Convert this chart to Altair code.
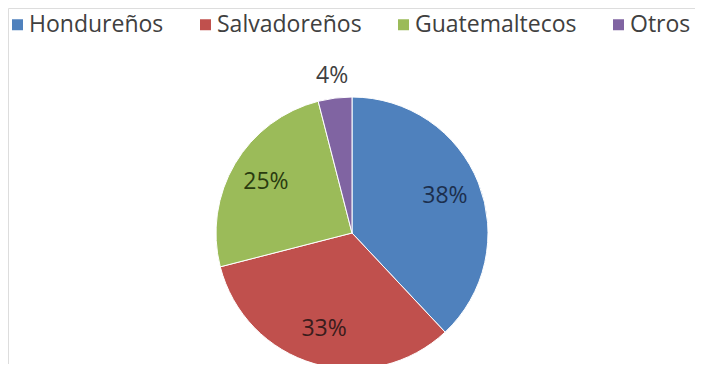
import altair as alt
import pandas as pd

categories = ["Hondureños", "Salvadoreños", "Guatemaltecos", "Otros"]
values = [38, 33, 25, 4]
labels = ["38%", "33%", "25%", "4%"]
colors = ["#4F81BD", "#C0504D", "#9BBB59", "#8064A2"]
label_colors = ["#1c2f4d", "#3a1c1c", "#2a3b10", "#404040"]

df = pd.DataFrame({"cat": categories, "val": values, "label": labels,
                   "order": list(range(len(categories)))})
total = sum(values)

cx, cy = 344, 225
theta_scale = alt.Scale(domain=[0, total])

base = alt.Chart(df).transform_stack(
    stack="val", as_=["v0", "v1"], groupby=[],
    sort=[alt.SortField("order", order="ascending")],
).transform_calculate(mid="(datum.v0 + datum.v1) / 2")

pie = base.mark_arc(outerRadius=136, stroke="white", strokeWidth=1).encode(
    x=alt.value(cx), y=alt.value(cy),
    theta=alt.Theta("v0:Q", scale=theta_scale),
    theta2="v1:Q",
    color=alt.Color("cat:N", sort=categories,
                    scale=alt.Scale(domain=categories, range=colors),
                    legend=alt.Legend(title=None, orient="none", direction="horizontal",
                                      legendX=-2, legendY=5,
                                      symbolType="square", symbolSize=121,
                                      symbolStrokeWidth=0,
                                      labelFont="Open Sans", labelFontSize=23,
                                      labelColor="#404040", columnPadding=30,
                                      labelOffset=0, labelLimit=300)),
)

def text_layer(radius, cond):
    return base.mark_text(radius=radius, font="Open Sans", fontSize=23).encode(
        x=alt.value(cx), y=alt.value(cy),
        theta=alt.Theta("mid:Q", scale=theta_scale),
        text="label:N",
        color=alt.Color("cat:N", scale=alt.Scale(domain=categories, range=label_colors),
                        legend=None),
    ).transform_filter(cond)

txt_in = text_layer(100, alt.datum.cat != "Otros")
txt_out = text_layer(158, alt.datum.cat == "Otros")

chart = alt.layer(pie, txt_in, txt_out).resolve_scale(color="independent").properties(
    width=687, height=356,
    autosize=alt.AutoSizeParams(type="none"),
    padding=0,
).configure_view(strokeWidth=0, stroke="transparent").configure(background="white")

chart.save("out.html", embed_options={"renderer": "svg", "actions": False})
